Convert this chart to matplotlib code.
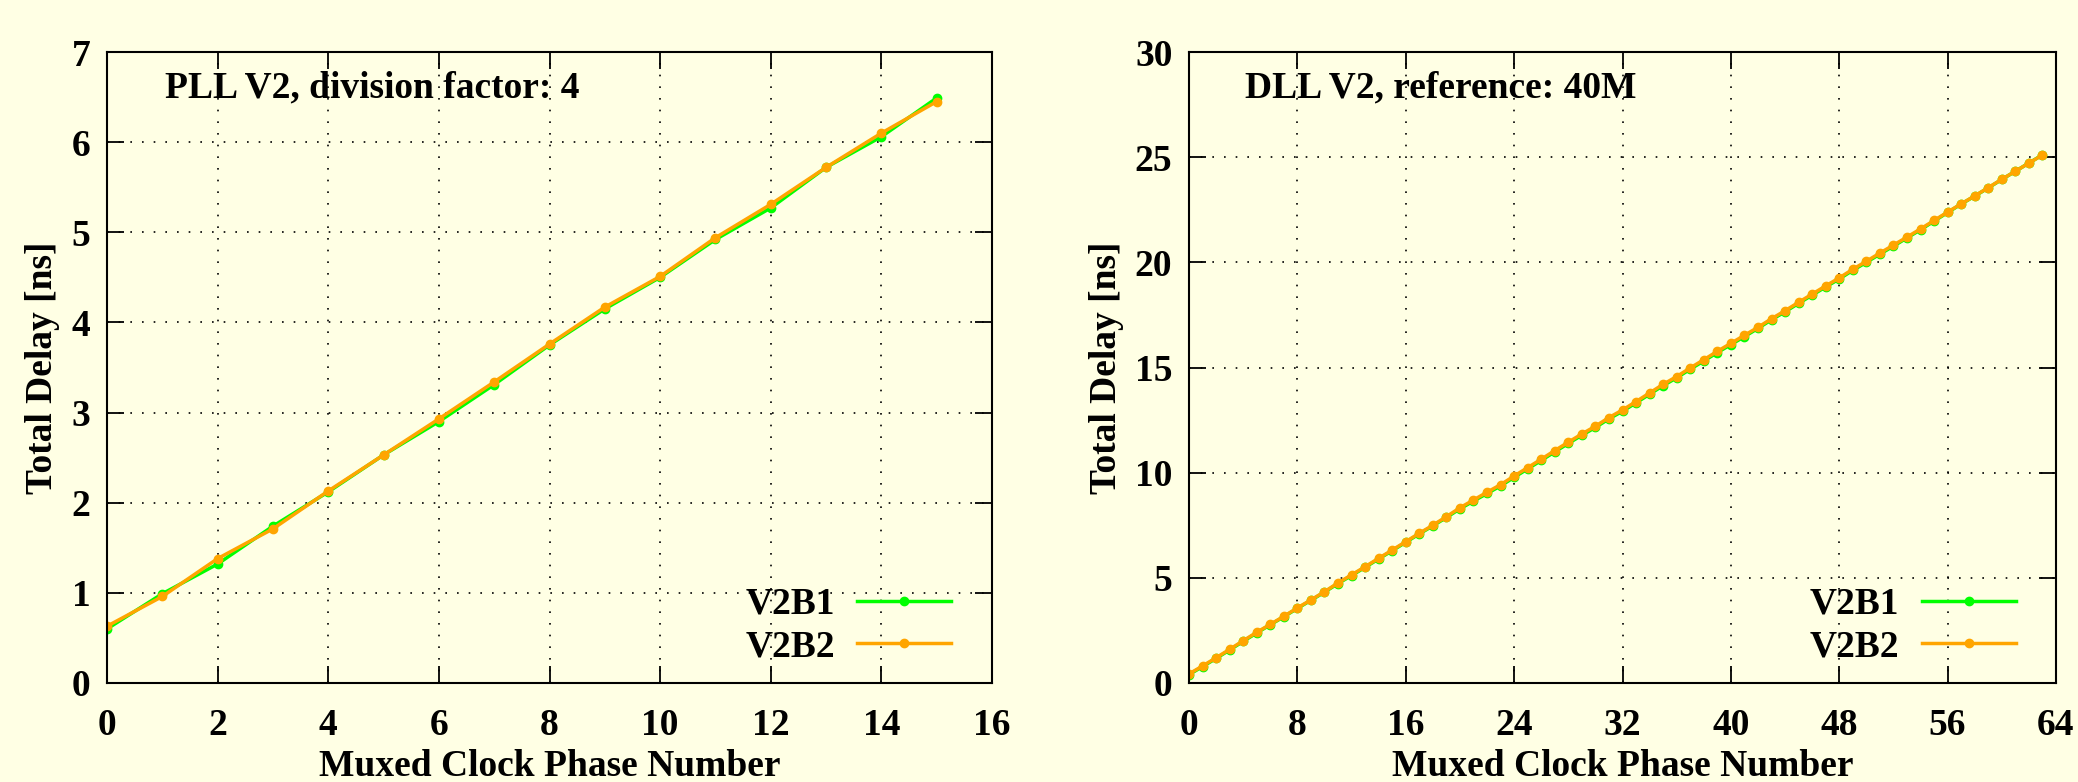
import matplotlib
matplotlib.use('Agg')
import matplotlib.pyplot as plt

plt.rcParams['font.family'] = ['Liberation Serif', 'DejaVu Serif']
plt.rcParams['font.weight'] = 'bold'

# PLL V2 (division factor 4)
pll_phase = list(range(16))
pll_v2b1 = [0.60, 0.99, 1.32, 1.74, 2.12, 2.53, 2.90, 3.31, 3.75, 4.15, 4.50, 4.92, 5.27, 5.72, 6.06, 6.49]
pll_v2b2 = [0.63, 0.96, 1.38, 1.71, 2.13, 2.53, 2.93, 3.34, 3.76, 4.17, 4.51, 4.94, 5.31, 5.72, 6.10, 6.45]

# DLL V2 (reference 40M)
dll_phase = list(range(64))
dll_v2b2 = [0.43, 0.81, 1.20, 1.60, 2.01, 2.41, 2.79, 3.17, 3.57, 3.95,
            4.34, 4.76, 5.14, 5.53, 5.93, 6.32, 6.72, 7.12, 7.50, 7.91,
            8.33, 8.70, 9.07, 9.43, 9.84, 10.24, 10.64, 11.05, 11.45, 11.84,
            12.21, 12.62, 12.98, 13.38, 13.79, 14.20, 14.57, 14.98, 15.37, 15.77,
            16.15, 16.53, 16.91, 17.32, 17.70, 18.10, 18.49, 18.88, 19.26, 19.67,
            20.05, 20.44, 20.82, 21.20, 21.59, 21.99, 22.39, 22.78, 23.16, 23.55,
            23.95, 24.33, 24.72, 25.10]
dll_v2b1 = [0.40, 0.78, 1.17, 1.57, 1.98, 2.38, 2.77, 3.15, 3.55, 3.93,
            4.32, 4.73, 5.11, 5.50, 5.90, 6.29, 6.69, 7.09, 7.47, 7.87,
            8.28, 8.65, 9.01, 9.37, 9.78, 10.18, 10.58, 10.99, 11.39, 11.78,
            12.15, 12.56, 12.92, 13.32, 13.73, 14.14, 14.51, 14.92, 15.31, 15.71,
            16.09, 16.47, 16.86, 17.27, 17.65, 18.05, 18.44, 18.83, 19.21, 19.62,
            20.00, 20.39, 20.77, 21.16, 21.55, 21.96, 22.37, 22.77, 23.15, 23.54,
            23.94, 24.33, 24.72, 25.11]

series_names = ['V2B1', 'V2B2']
series_colors = ['#00ff00', '#ffa500']

bg = '#ffffe4'
fs = 27

fig = plt.figure(figsize=(20.78, 7.82), dpi=100, facecolor=bg)
ax1 = fig.add_axes([107/2078, 99/782, 885/2078, 631/782])
ax2 = fig.add_axes([1189/2078, 99/782, 867/2078, 631/782])


def style(ax, xmax, xstep, ymax, ystep, note):
    ax.set_facecolor(bg)
    ax.set_xlim(0, xmax)
    ax.set_ylim(0, ymax)
    ax.set_xticks(range(0, xmax + 1, xstep))
    ax.set_yticks(range(0, ymax + 1, ystep))
    ax.grid(True, color='black', linestyle=(0, (1, 6)), linewidth=1.2)
    ax.tick_params(direction='in', length=12, width=1.3, top=True, right=True,
                   labelsize=fs)
    ax.tick_params(axis='x', pad=18)
    ax.tick_params(axis='y', pad=12)
    for lab in ax.get_xticklabels() + ax.get_yticklabels():
        lab.set_fontweight('bold')
    for s in ax.spines.values():
        s.set_linewidth(1.5)
    ax.set_xlabel('Muxed Clock Phase Number', fontsize=fs, fontweight='bold', labelpad=4)
    ax.set_ylabel('Total Delay [ns]', fontsize=fs, fontweight='bold', labelpad=8)
    ax.text(0.065, 0.928, note, transform=ax.transAxes, fontsize=fs,
            fontweight='bold', va='baseline', ha='left')
    ax.legend(loc='lower right', bbox_to_anchor=(0.975, 0.0), frameon=False,
              markerfirst=False, handlelength=2.5, borderpad=0,
              labelspacing=0.2, handletextpad=0.6, prop={'weight': 'bold', 'size': fs})


ax1.plot(pll_phase, pll_v2b1, color=series_colors[0], lw=2.5, marker='o', ms=6, label=series_names[0])
ax1.plot(pll_phase, pll_v2b2, color=series_colors[1], lw=2.5, marker='o', ms=6, label=series_names[1])
style(ax1, 16, 2, 7, 1, 'PLL V2, division factor: 4')

ax2.plot(dll_phase, dll_v2b1, color=series_colors[0], lw=2.5, marker='o', ms=6, label=series_names[0])
ax2.plot(dll_phase, dll_v2b2, color=series_colors[1], lw=2.5, marker='o', ms=6, label=series_names[1])
style(ax2, 64, 8, 30, 5, 'DLL V2, reference: 40M')

fig.savefig('out.png', dpi=100, facecolor=bg)
